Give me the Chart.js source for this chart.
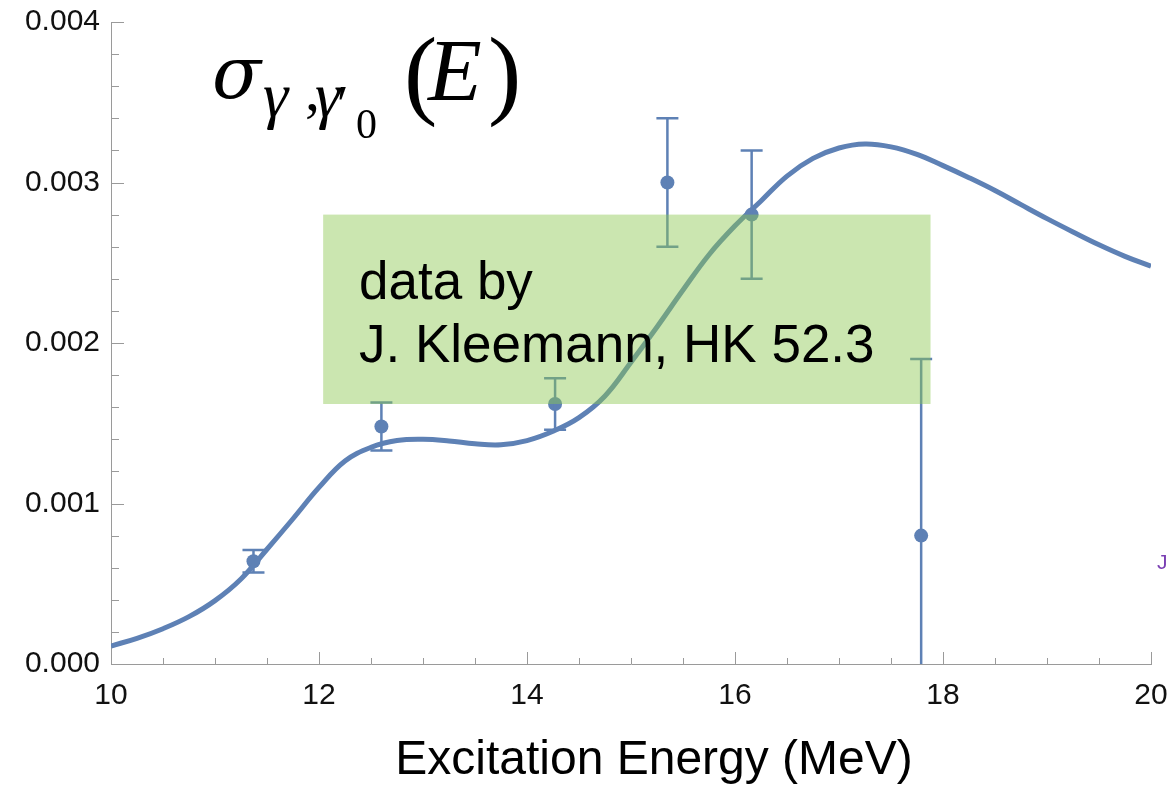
<!DOCTYPE html>
<html>
<head>
<meta charset="utf-8">
<script src="https://cdn.jsdelivr.net/npm/chart.js@4/dist/chart.umd.min.js"></script>
<style>
  html, body { margin: 0; padding: 0; background: #fff; }
  #wrap { width: 1172px; height: 785px; position: relative; }
</style>
</head>
<body>
<div id="wrap"><canvas id="xsec"></canvas></div>
<script>
// ---------- fit curve (MeV, sigma) ----------
const fitEnergy = [10, 10.25, 10.5, 10.75, 11, 11.25, 11.5, 11.75, 12, 12.25, 12.5, 12.75,
                   13, 13.25, 13.5, 13.75, 14, 14.25, 14.5, 14.75, 15, 15.25, 15.5, 15.75,
                   16, 16.25, 16.5, 16.75, 17, 17.25, 17.5, 17.75, 18, 18.25, 18.5, 18.75,
                   19, 19.25, 19.5, 19.75, 20];
const fitSigma = [0.000112, 0.000160, 0.000220, 0.000295, 0.000395, 0.000530, 0.000715, 0.000905,
                  0.001100, 0.001265, 0.001350, 0.001392, 0.001400, 0.001390, 0.001372, 0.001366,
                  0.001392, 0.001450, 0.001535, 0.001670, 0.001880, 0.002100, 0.002330, 0.002550,
                  0.002730, 0.002885, 0.003040, 0.003150, 0.003215, 0.003240, 0.003222, 0.003175,
                  0.003105, 0.003030, 0.002950, 0.002862, 0.002775, 0.002692, 0.002612, 0.002540,
                  0.002478];

// ---------- measured points ----------
const dataEnergy = [11.37, 12.6, 14.27, 15.35, 16.16, 17.79];
const dataSigma  = [0.00064, 0.00148, 0.00162, 0.00300, 0.00280, 0.00080];
const dataError  = [0.00007, 0.00015, 0.00016, 0.00040, 0.00040, 0.00110];

// ---------- axis ticks ----------
const xMajor = [10, 12, 14, 16, 18, 20];
const yMajor = [0, 0.001, 0.002, 0.003, 0.004];

// note box (data units)
const noteBox = { x0: 12.04, x1: 17.88, y0: 0.00162, y1: 0.00280 };
const noteLines = ["data by", "J. Kleemann, HK 52.3"];

const BLUE = "#5e81b5";
const AXIS = "#9a9a9a";
const SANS = "'Liberation Sans', Arial, sans-serif";
const SERIF = "'Liberation Serif', 'Times New Roman', serif";
const DSERIF = "'DejaVu Serif', serif";

// minor + major tick marks pointing into the plot
const innerTicks = {
    id: "innerTicks",
    beforeDatasetsDraw(chart) {
        const { ctx, chartArea: a, scales: { x, y } } = chart;
        ctx.save();
        ctx.strokeStyle = AXIS;
        ctx.lineWidth = 1;
        ctx.beginPath();
        for (let v = 10; v <= 20.001; v += 0.5) {
            const px = Math.round(x.getPixelForValue(v)) + 0.5;
            const len = (Math.abs(v % 2) < 1e-6) ? 12 : 6;
            ctx.moveTo(px, a.bottom);
            ctx.lineTo(px, a.bottom - len);
        }
        for (let i = 0; i <= 20; i++) {
            const v = i * 0.0002;
            const py = Math.round(y.getPixelForValue(v)) + 0.5;
            const len = (i % 5 === 0) ? 13 : 8;
            ctx.moveTo(a.left, py);
            ctx.lineTo(a.left + len, py);
        }
        ctx.stroke();
        ctx.restore();
    }
};

// error bars + note box
const errorBars = {
    id: "errorBars",
    afterDatasetsDraw(chart) {
        const { ctx, chartArea: a, scales: { x, y } } = chart;
        ctx.save();
        ctx.beginPath();
        ctx.rect(a.left, a.top, a.right - a.left, a.bottom - a.top);
        ctx.clip();
        ctx.strokeStyle = BLUE;
        ctx.lineWidth = 2.5;
        dataEnergy.forEach((e, i) => {
            const px = x.getPixelForValue(e);
            const top = y.getPixelForValue(dataSigma[i] + dataError[i]);
            const bot = y.getPixelForValue(dataSigma[i] - dataError[i]);
            ctx.beginPath();
            ctx.moveTo(px, top); ctx.lineTo(px, bot);
            ctx.moveTo(px - 11, top); ctx.lineTo(px + 11, top);
            ctx.moveTo(px - 11, bot); ctx.lineTo(px + 11, bot);
            ctx.stroke();
        });
        ctx.restore();

        // translucent green note over the curve
        const bx0 = x.getPixelForValue(noteBox.x0), bx1 = x.getPixelForValue(noteBox.x1);
        const by0 = y.getPixelForValue(noteBox.y1), by1 = y.getPixelForValue(noteBox.y0);
        ctx.save();
        ctx.fillStyle = "rgba(140, 200, 80, 0.45)";
        ctx.fillRect(bx0, by0, bx1 - bx0, by1 - by0);
        ctx.restore();
    },
    afterDraw(chart) {
        const { ctx } = chart;
        ctx.save();
        ctx.fillStyle = "#000";
        ctx.textBaseline = "alphabetic";
        ctx.textAlign = "left";

        // note text
        ctx.font = "53px " + SANS;
        ctx.fillText(noteLines[0], 359, 299);
        ctx.fillText(noteLines[1], 359, 362);

        // axis title
        ctx.font = "48px " + SANS;
        ctx.textAlign = "center";
        ctx.fillText("Excitation Energy (MeV)", 654, 774);

        // sigma_{gamma,gamma'_0}(E)
        ctx.textAlign = "left";
        ctx.font = "italic 72px " + DSERIF;
        ctx.fillText("σ", 212, 98);
        ctx.font = "italic 64px " + SERIF;
        ctx.fillText("γ", 263, 116);
        ctx.font = "60px " + SERIF;
        ctx.fillText(",", 305, 110);
        ctx.font = "italic 64px " + SERIF;
        ctx.fillText("γ", 315, 116);
        ctx.font = "52px " + SERIF;
        ctx.fillText("′", 337, 122);
        ctx.font = "42px " + SERIF;
        ctx.fillText("0", 356, 138);
        ctx.font = "100px " + SERIF;
        ctx.fillText("(", 404, 106);
        ctx.font = "italic 88px " + SERIF;
        ctx.fillText("E", 428, 100);
        ctx.font = "100px " + SERIF;
        ctx.fillText(")", 488, 106);

        // stray label at the right edge
        ctx.fillStyle = "#7a3fb3";
        ctx.font = "21px " + SANS;
        ctx.fillText("J", 1157, 569);
        ctx.restore();
    }
};

const ctx = document.getElementById("xsec");

new Chart(ctx, {
    type: "line",
    data: {
        datasets: [
            {
                label: "fit",
                data: fitEnergy.map((e, i) => ({ x: e, y: fitSigma[i] })),
                borderColor: BLUE,
                borderWidth: 5,
                pointRadius: 0,
                tension: 0.4,
                fill: false
            },
            {
                label: "data",
                data: dataEnergy.map((e, i) => ({ x: e, y: dataSigma[i] })),
                showLine: false,
                pointRadius: 7,
                pointBackgroundColor: BLUE,
                pointBorderWidth: 0
            }
        ]
    },
    options: {
        responsive: true,
        maintainAspectRatio: false,
        animation: false,
        layout: { padding: { top: 22, right: 21, left: 0, bottom: 0 } },
        plugins: {
            legend: { display: false },
            tooltip: { enabled: false }
        },
        scales: {
            x: {
                type: "linear",
                min: 10,
                max: 20,
                afterFit: s => { s.height = 121; s.paddingLeft = 0; s.paddingRight = 0; },
                afterBuildTicks: s => { s.ticks = xMajor.map(v => ({ value: v })); },
                grid: { display: false, drawTicks: false },
                border: { display: true, color: AXIS, width: 1 },
                ticks: {
                    padding: 14,
                    color: "#111",
                    font: { family: SANS, size: 30 },
                    maxRotation: 0,
                    callback: v => String(v)
                }
            },
            y: {
                min: 0,
                max: 0.004,
                afterFit: s => { s.width = 111; s.paddingTop = 0; s.paddingBottom = 0; },
                afterBuildTicks: s => { s.ticks = yMajor.map(v => ({ value: v })); },
                grid: { display: false, drawTicks: false },
                border: { display: true, color: AXIS, width: 1 },
                ticks: {
                    padding: 11,
                    color: "#111",
                    font: { family: SANS, size: 30 },
                    callback: v => v.toFixed(3)
                }
            }
        }
    },
    plugins: [innerTicks, errorBars]
});
</script>
</body>
</html>
